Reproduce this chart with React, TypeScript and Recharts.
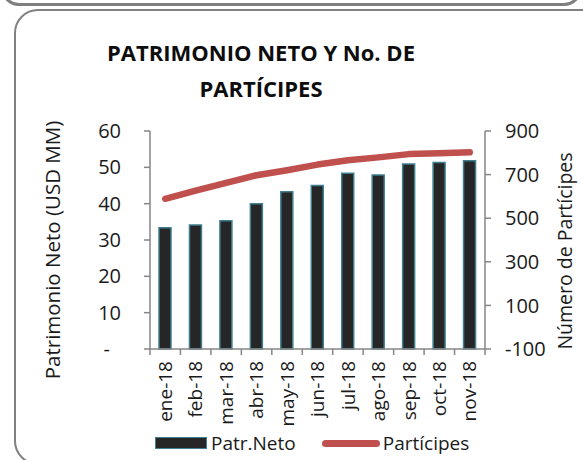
import {
  Bar,
  ComposedChart,
  Legend,
  Line,
  XAxis,
  YAxis,
} from "recharts";

const months = [
  "ene-18",
  "feb-18",
  "mar-18",
  "abr-18",
  "may-18",
  "jun-18",
  "jul-18",
  "ago-18",
  "sep-18",
  "oct-18",
  "nov-18",
];
const patrNeto = [33.4, 34.1, 35.3, 40.0, 43.3, 45.0, 48.4, 47.9, 50.9, 51.3, 51.8];
const participes = [589, 626, 662, 697, 720, 746, 766, 779, 794, 798, 802];
const leftTicks = [0, 10, 20, 30, 40, 50, 60];
const rightTicks = [-100, 100, 300, 500, 700, 900];

const data = months.map((month, i) => ({
  month,
  patr: patrNeto[i],
  part: participes[i],
}));

const FONT = "'Open Sans', sans-serif";
const AXIS = "#868686";
const BAR_FILL = "#262626";
const BAR_STROKE = "#3f7f91";
const LINE = "#c0504d";

const W = 583;
const H = 460;
const LEFT_W = 150;
const RIGHT_W = 98;
const band = (W - LEFT_W - RIGHT_W) / months.length;

function MonthTick(props: any) {
  const { x, y, payload, index } = props;
  const last = index === months.length - 1;
  return (
    <g>
      <line x1={x - band / 2} x2={x - band / 2} y1={y} y2={y + 6} stroke={AXIS} strokeWidth={1.5} />
      {last && (
        <line x1={x + band / 2} x2={x + band / 2} y1={y} y2={y + 6} stroke={AXIS} strokeWidth={1.5} />
      )}
      <text
        transform={`translate(${x},${y + 12}) rotate(-90)`}
        textAnchor="end"
        dy="0.35em"
        fontFamily={FONT}
        fontSize={19}
        fill="#1a1a1a"
      >
        {payload.value}
      </text>
    </g>
  );
}

function LeftTick(props: any) {
  const { x, y, payload } = props;
  const zero = payload.value === 0;
  return (
    <text
      x={x}
      y={y}
      dx={zero ? -11 : 0}
      dy="0.35em"
      textAnchor="end"
      fontFamily={FONT}
      fontSize={20}
      fill="#1a1a1a"
    >
      {zero ? "-" : payload.value}
    </text>
  );
}

function ChartLegend() {
  return (
    <div
      style={{
        display: "flex",
        alignItems: "center",
        height: 24,
        paddingLeft: 155,
        fontFamily: FONT,
        fontSize: 19,
        color: "#1a1a1a",
      }}
    >
      <span
        style={{
          width: 50,
          height: 10,
          background: BAR_FILL,
          border: `1.5px solid ${BAR_STROKE}`,
          marginRight: 4,
        }}
      />
      <span style={{ marginRight: 26 }}>Patr.Neto</span>
      <span
        style={{
          width: 58,
          height: 7,
          borderRadius: 4,
          background: LINE,
          marginRight: 3,
        }}
      />
      <span>Partícipes</span>
    </div>
  );
}

export default function App() {
  return (
    <div
      style={{
        position: "absolute",
        top: 0,
        left: 0,
        width: W,
        height: H,
        overflow: "hidden",
        background: "#fff",
      }}
    >
      <div
        style={{
          position: "absolute",
          left: 1,
          top: -40,
          width: 575,
          height: 40,
          border: "3px solid #7f7f7f",
          borderRadius: 18,
        }}
      />
      <div
        style={{
          position: "absolute",
          left: 14,
          top: 9,
          width: 590,
          height: 452,
          border: "2px solid #808080",
          borderRadius: 24,
        }}
      />

      <div
        style={{
          position: "absolute",
          left: 0,
          top: 34,
          width: 522,
          textAlign: "center",
          fontFamily: FONT,
          fontWeight: 700,
          fontSize: 22,
          lineHeight: "36px",
          color: "#0d0d0d",
        }}
      >
        PATRIMONIO NETO Y No. DE
        <br />
        PARTÍCIPES
      </div>

      <div
        style={{
          position: "absolute",
          left: 52 - 160,
          top: 250 - 14,
          width: 320,
          height: 28,
          lineHeight: "28px",
          textAlign: "center",
          transform: "rotate(-90deg)",
          fontFamily: FONT,
          fontSize: 20.5,
          color: "#1a1a1a",
          whiteSpace: "nowrap",
        }}
      >
        Patrimonio Neto (USD MM)
      </div>
      <div
        style={{
          position: "absolute",
          left: 565 - 160,
          top: 251 - 14,
          width: 320,
          height: 28,
          lineHeight: "28px",
          textAlign: "center",
          transform: "rotate(-90deg)",
          fontFamily: FONT,
          fontSize: 19.5,
          color: "#1a1a1a",
          whiteSpace: "nowrap",
        }}
      >
        Número de Partícipes
      </div>

      <div style={{ position: "absolute", left: 0, top: 0 }}>
        <ComposedChart
          width={W}
          height={H}
          data={data}
          margin={{ top: 131, right: 0, bottom: 5, left: 0 }}
        >
          <XAxis
            dataKey="month"
            interval={0}
            height={82}
            tickSize={0}
            tickMargin={0}
            tickLine={false}
            axisLine={{ stroke: AXIS, strokeWidth: 1.5 }}
            tick={<MonthTick />}
          />
          <YAxis
            yAxisId="left"
            domain={[0, 60]}
            ticks={leftTicks}
            width={LEFT_W}
            tickSize={6}
            tickMargin={23}
            tickLine={{ stroke: AXIS, strokeWidth: 1.5 }}
            axisLine={{ stroke: AXIS, strokeWidth: 1.5 }}
            tick={<LeftTick />}
          />
          <YAxis
            yAxisId="right"
            orientation="right"
            domain={[-100, 900]}
            ticks={rightTicks}
            width={RIGHT_W}
            tickSize={6}
            tickMargin={14}
            tickLine={{ stroke: AXIS, strokeWidth: 1.5 }}
            axisLine={{ stroke: AXIS, strokeWidth: 1.5 }}
            tick={{ fontFamily: FONT, fontSize: 20, fill: "#1a1a1a" }}
          />
          <Legend verticalAlign="bottom" height={24} content={<ChartLegend />} />
          <Bar
            yAxisId="left"
            dataKey="patr"
            name="Patr.Neto"
            fill={BAR_FILL}
            stroke={BAR_STROKE}
            strokeWidth={1.5}
            barSize={12}
            isAnimationActive={false}
          />
          <Line
            yAxisId="right"
            dataKey="part"
            name="Partícipes"
            type="linear"
            stroke={LINE}
            strokeWidth={6.5}
            strokeLinecap="round"
            strokeLinejoin="round"
            dot={false}
            activeDot={false}
            isAnimationActive={false}
          />
        </ComposedChart>
      </div>
    </div>
  );
}
